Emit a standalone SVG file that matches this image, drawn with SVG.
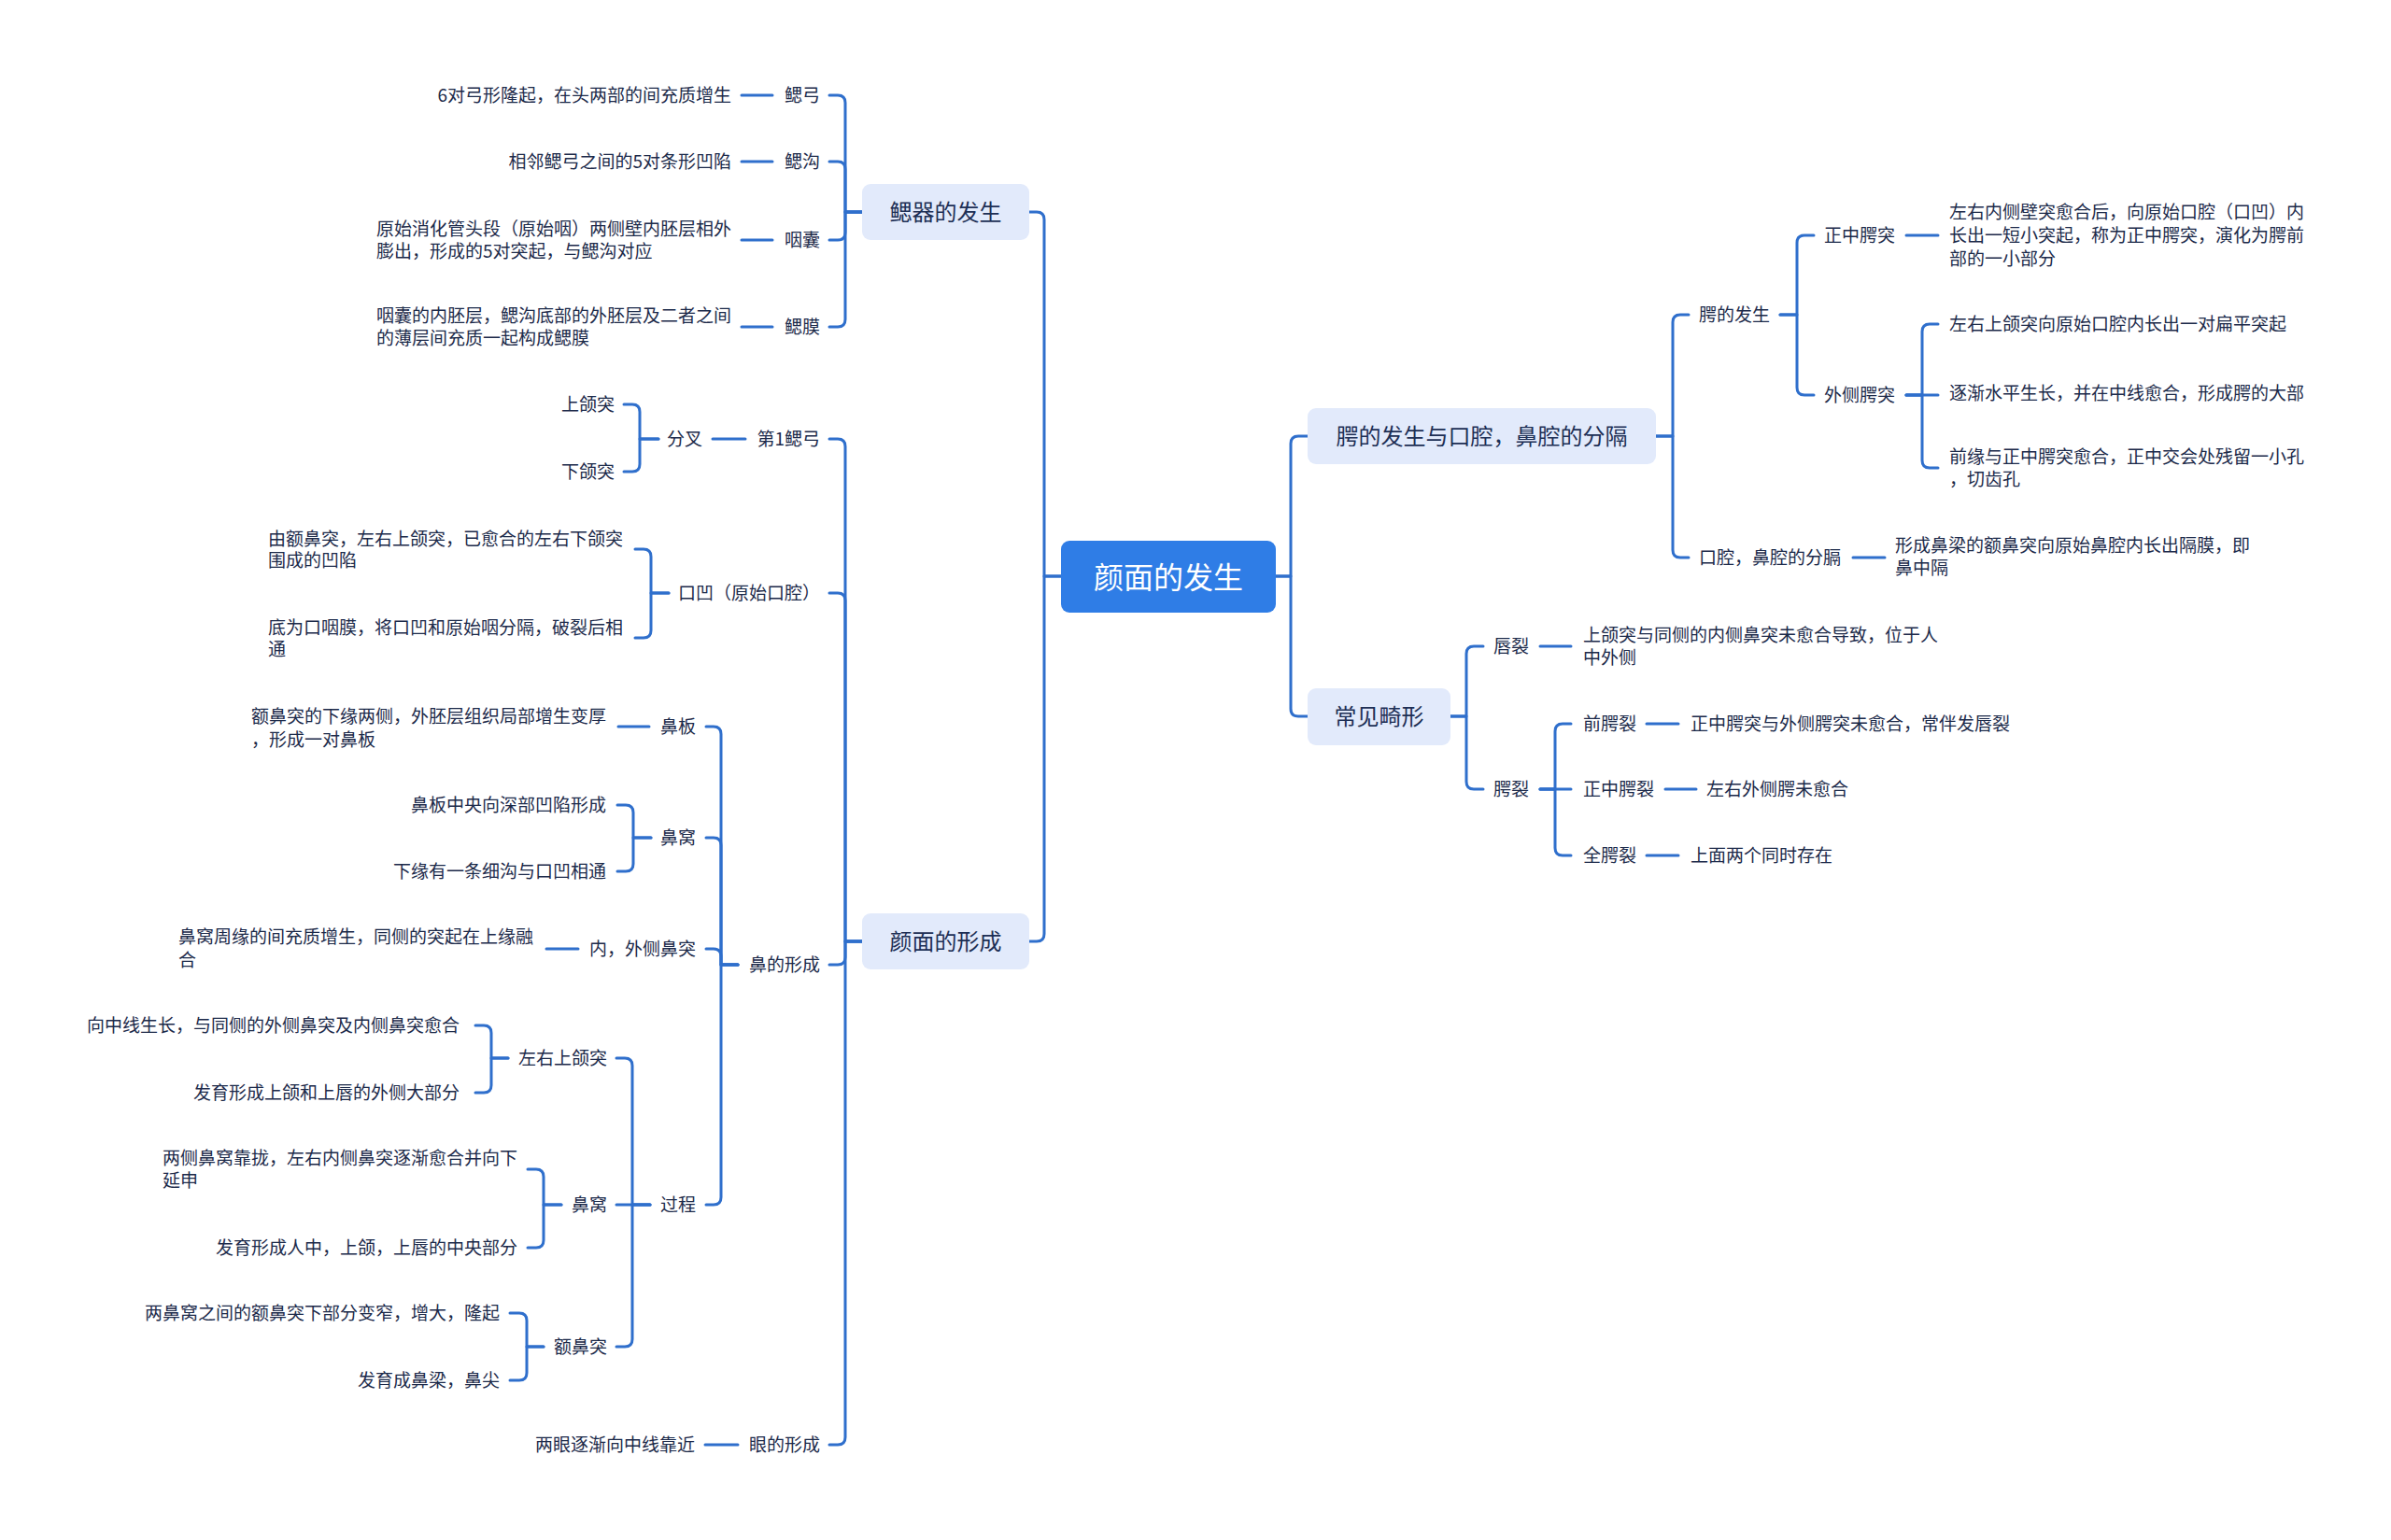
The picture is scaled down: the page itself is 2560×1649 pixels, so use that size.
<svg xmlns="http://www.w3.org/2000/svg" width="2560" height="1649" viewBox="0 0 2560 1649">
<style>
.ln{fill:none;stroke:#2f6fcc;stroke-width:3;stroke-linecap:round;stroke-linejoin:round}
.t{font-family:"Noto Sans CJK SC","Noto Sans",sans-serif;font-size:19px;fill:#1c2a4a;dominant-baseline:central;transform:translateY(-1.5px)}
.e{text-anchor:end}
.l1{font-size:24px;text-anchor:middle;fill:#1d2f55}
.rt{font-size:32px;text-anchor:middle;fill:#ffffff}
.b1{fill:#e2eafb}
.b0{fill:#2f7de6}
</style>
<rect width="2560" height="1649" fill="#ffffff"/>
<g id="connectors">
<path class="ln" d="M1136 617 H1118 V235 Q1118 227 1110 227 H1102"/>
<path class="ln" d="M1136 617 H1118 V1000 Q1118 1008 1110 1008 H1102"/>
<path class="ln" d="M1366 617 H1382 V475 Q1382 467 1390 467 H1400"/>
<path class="ln" d="M1366 617 H1382 V759 Q1382 767 1390 767 H1400"/>
<path class="ln" d="M923 227 H905 V110 Q905 102 897 102 H888"/>
<path class="ln" d="M923 227 H905 V181 Q905 173 897 173 H888"/>
<path class="ln" d="M923 227 H905 V249 Q905 257 897 257 H888"/>
<path class="ln" d="M923 227 H905 V342 Q905 350 897 350 H888"/>
<path class="ln" d="M827 102 H794 M827 173 H794 M827 257 H794 M827 350 H794"/>
<path class="ln" d="M923 1008 H905 V478 Q905 470 897 470 H888"/>
<path class="ln" d="M923 1008 H905 V643 Q905 635 897 635 H888"/>
<path class="ln" d="M923 1008 H905 V1025 Q905 1033 897 1033 H888"/>
<path class="ln" d="M923 1008 H905 V1539 Q905 1547 897 1547 H888"/>
<path class="ln" d="M798 470 H763"/>
<path class="ln" d="M705 470 H685 V441 Q685 433 677 433 H668"/>
<path class="ln" d="M705 470 H685 V497 Q685 505 677 505 H668"/>
<path class="ln" d="M716 635 H697 V596 Q697 588 689 588 H680"/>
<path class="ln" d="M716 635 H697 V675 Q697 683 689 683 H680"/>
<path class="ln" d="M790 1033 H772 V786 Q772 778 764 778 H756"/>
<path class="ln" d="M790 1033 H772 V905 Q772 897 764 897 H756"/>
<path class="ln" d="M790 1033 H772 V1024 Q772 1016 764 1016 H756"/>
<path class="ln" d="M790 1033 H772 V1282 Q772 1290 764 1290 H756"/>
<path class="ln" d="M695 778 H662"/>
<path class="ln" d="M697 897 H678 V870 Q678 862 670 862 H661"/>
<path class="ln" d="M697 897 H678 V925 Q678 933 670 933 H661"/>
<path class="ln" d="M619 1016 H585"/>
<path class="ln" d="M696 1290 H677 V1141 Q677 1133 669 1133 H660"/>
<path class="ln" d="M696 1290 H660"/>
<path class="ln" d="M696 1290 H677 V1434 Q677 1442 669 1442 H660"/>
<path class="ln" d="M544 1133 H526 V1106 Q526 1098 518 1098 H509"/>
<path class="ln" d="M544 1133 H526 V1162 Q526 1170 518 1170 H509"/>
<path class="ln" d="M601 1290 H582 V1260 Q582 1252 574 1252 H565"/>
<path class="ln" d="M601 1290 H582 V1328 Q582 1336 574 1336 H565"/>
<path class="ln" d="M582 1442 H564 V1414 Q564 1406 556 1406 H546"/>
<path class="ln" d="M582 1442 H564 V1470 Q564 1478 556 1478 H546"/>
<path class="ln" d="M790 1547 H755"/>
<path class="ln" d="M1773 467 H1791 V345 Q1791 337 1799 337 H1808"/>
<path class="ln" d="M1773 467 H1791 V589 Q1791 597 1799 597 H1808"/>
<path class="ln" d="M1906 337 H1924 V260 Q1924 252 1932 252 H1942"/>
<path class="ln" d="M1906 337 H1924 V415 Q1924 423 1932 423 H1942"/>
<path class="ln" d="M2041 252 H2075"/>
<path class="ln" d="M2041 423 H2058 V355 Q2058 347 2066 347 H2075"/>
<path class="ln" d="M2041 423 H2075"/>
<path class="ln" d="M2041 423 H2058 V493 Q2058 501 2066 501 H2075"/>
<path class="ln" d="M1984 597 H2018"/>
<path class="ln" d="M1553 767 H1570 V700 Q1570 692 1578 692 H1588"/>
<path class="ln" d="M1553 767 H1570 V837 Q1570 845 1578 845 H1588"/>
<path class="ln" d="M1649 692 H1682"/>
<path class="ln" d="M1649 845 H1665 V783 Q1665 775 1673 775 H1682"/>
<path class="ln" d="M1649 845 H1682"/>
<path class="ln" d="M1649 845 H1665 V908 Q1665 916 1673 916 H1682"/>
<path class="ln" d="M1763 775 H1797 M1783 845 H1816 M1763 916 H1797"/>
</g>
<g id="root"><rect class="b0" x="1136" y="579" width="230" height="77" rx="9"/><text class="t rt" x="1251" y="617">颜面的发生</text></g>
<g id="n-saiqi"><rect class="b1" x="923" y="197" width="179" height="60" rx="9"/><text class="t l1" x="1012.5" y="227">鳃器的发生</text></g>
<g id="n-yanmian"><rect class="b1" x="923" y="978" width="179" height="60" rx="9"/><text class="t l1" x="1012.5" y="1008">颜面的形成</text></g>
<g id="n-e"><rect class="b1" x="1400" y="437" width="373" height="60" rx="9"/><text class="t l1" x="1586.5" y="467">腭的发生与口腔，鼻腔的分隔</text></g>
<g id="n-jixing"><rect class="b1" x="1400" y="737" width="153" height="61" rx="9"/><text class="t l1" x="1476.5" y="767">常见畸形</text></g>
<g id="n-saigong"><text class="t e" x="878" y="102">鳃弓</text></g>
<g id="d-saigong"><text class="t e" x="783" y="102">6对弓形隆起，在头两部的间充质增生</text></g>
<g id="n-saigou"><text class="t e" x="878" y="173">鳃沟</text></g>
<g id="d-saigou"><text class="t e" x="783" y="173">相邻鳃弓之间的5对条形凹陷</text></g>
<g id="n-yannang"><text class="t e" x="878" y="257">咽囊</text></g>
<g id="d-yannang"><text class="t" x="403" y="245">原始消化管头段（原始咽）两侧壁内胚层相外</text><text class="t" x="403" y="269">膨出，形成的5对突起，与鳃沟对应</text></g>
<g id="n-saimo"><text class="t e" x="878" y="350">鳃膜</text></g>
<g id="d-saimo"><text class="t" x="403" y="338">咽囊的内胚层，鳃沟底部的外胚层及二者之间</text><text class="t" x="403" y="362">的薄层间充质一起构成鳃膜</text></g>
<g id="n-di1"><text class="t e" x="878" y="470">第1鳃弓</text></g>
<g id="n-fencha"><text class="t e" x="752" y="470">分叉</text></g>
<g id="n-shanghe"><text class="t e" x="658" y="433">上颌突</text></g>
<g id="n-xiahe"><text class="t e" x="658" y="505">下颌突</text></g>
<g id="n-kouao"><text class="t e" x="878" y="635">口凹（原始口腔）</text></g>
<g id="d-kouao1"><text class="t" x="287" y="577">由额鼻突，左右上颌突，已愈合的左右下颌突</text><text class="t" x="287" y="600">围成的凹陷</text></g>
<g id="d-kouao2"><text class="t" x="287" y="672">底为口咽膜，将口凹和原始咽分隔，破裂后相</text><text class="t" x="287" y="695">通</text></g>
<g id="n-bi"><text class="t e" x="878" y="1033">鼻的形成</text></g>
<g id="n-biban"><text class="t e" x="745" y="778">鼻板</text></g>
<g id="d-biban"><text class="t" x="269" y="767">额鼻突的下缘两侧，外胚层组织局部增生变厚</text><text class="t" x="269" y="792">，形成一对鼻板</text></g>
<g id="n-biwo"><text class="t e" x="745" y="897">鼻窝</text></g>
<g id="d-biwo1"><text class="t e" x="649" y="862">鼻板中央向深部凹陷形成</text></g>
<g id="d-biwo2"><text class="t e" x="649" y="933">下缘有一条细沟与口凹相通</text></g>
<g id="n-neiwai"><text class="t e" x="745" y="1016">内，外侧鼻突</text></g>
<g id="d-neiwai"><text class="t" x="191" y="1003">鼻窝周缘的间充质增生，同侧的突起在上缘融</text><text class="t" x="191" y="1028">合</text></g>
<g id="n-guocheng"><text class="t e" x="745" y="1290">过程</text></g>
<g id="n-zuoyou"><text class="t e" x="650" y="1133">左右上颌突</text></g>
<g id="d-zuoyou1"><text class="t e" x="492" y="1098">向中线生长，与同侧的外侧鼻突及内侧鼻突愈合</text></g>
<g id="d-zuoyou2"><text class="t e" x="492" y="1170">发育形成上颌和上唇的外侧大部分</text></g>
<g id="n-biwo2"><text class="t e" x="650" y="1290">鼻窝</text></g>
<g id="d-biwo3"><text class="t" x="174" y="1240">两侧鼻窝靠拢，左右内侧鼻突逐渐愈合并向下</text><text class="t" x="174" y="1264">延申</text></g>
<g id="d-biwo4"><text class="t e" x="554" y="1336">发育形成人中，上颌，上唇的中央部分</text></g>
<g id="n-ebi"><text class="t e" x="650" y="1442">额鼻突</text></g>
<g id="d-ebi1"><text class="t e" x="535" y="1406">两鼻窝之间的额鼻突下部分变窄，增大，隆起</text></g>
<g id="d-ebi2"><text class="t e" x="535" y="1478">发育成鼻梁，鼻尖</text></g>
<g id="n-yan"><text class="t e" x="878" y="1547">眼的形成</text></g>
<g id="d-yan"><text class="t e" x="744" y="1547">两眼逐渐向中线靠近</text></g>
<g id="n-efasheng"><text class="t" x="1819" y="337">腭的发生</text></g>
<g id="n-zhongzhong"><text class="t" x="1953" y="252">正中腭突</text></g>
<g id="d-zhongzhong"><text class="t" x="2087" y="227">左右内侧壁突愈合后，向原始口腔（口凹）内</text><text class="t" x="2087" y="252">长出一短小突起，称为正中腭突，演化为腭前</text><text class="t" x="2087" y="277">部的一小部分</text></g>
<g id="n-waice"><text class="t" x="1953" y="423">外侧腭突</text></g>
<g id="d-waice1"><text class="t" x="2087" y="347">左右上颌突向原始口腔内长出一对扁平突起</text></g>
<g id="d-waice2"><text class="t" x="2087" y="421">逐渐水平生长，并在中线愈合，形成腭的大部</text></g>
<g id="d-waice3"><text class="t" x="2087" y="489">前缘与正中腭突愈合，正中交会处残留一小孔</text><text class="t" x="2087" y="513">，切齿孔</text></g>
<g id="n-fenge"><text class="t" x="1819" y="597">口腔，鼻腔的分膈</text></g>
<g id="d-fenge"><text class="t" x="2029" y="584">形成鼻梁的额鼻突向原始鼻腔内长出隔膜，即</text><text class="t" x="2029" y="608">鼻中隔</text></g>
<g id="n-chunlie"><text class="t" x="1599" y="692">唇裂</text></g>
<g id="d-chunlie"><text class="t" x="1695" y="680">上颌突与同侧的内侧鼻突未愈合导致，位于人</text><text class="t" x="1695" y="704">中外侧</text></g>
<g id="n-elie"><text class="t" x="1599" y="845">腭裂</text></g>
<g id="n-qianelie"><text class="t" x="1695" y="775">前腭裂</text></g>
<g id="d-qianelie"><text class="t" x="1810" y="775">正中腭突与外侧腭突未愈合，常伴发唇裂</text></g>
<g id="n-zhongelie"><text class="t" x="1695" y="845">正中腭裂</text></g>
<g id="d-zhongelie"><text class="t" x="1827" y="845">左右外侧腭未愈合</text></g>
<g id="n-quanelie"><text class="t" x="1695" y="916">全腭裂</text></g>
<g id="d-quanelie"><text class="t" x="1810" y="916">上面两个同时存在</text></g>
</svg>
